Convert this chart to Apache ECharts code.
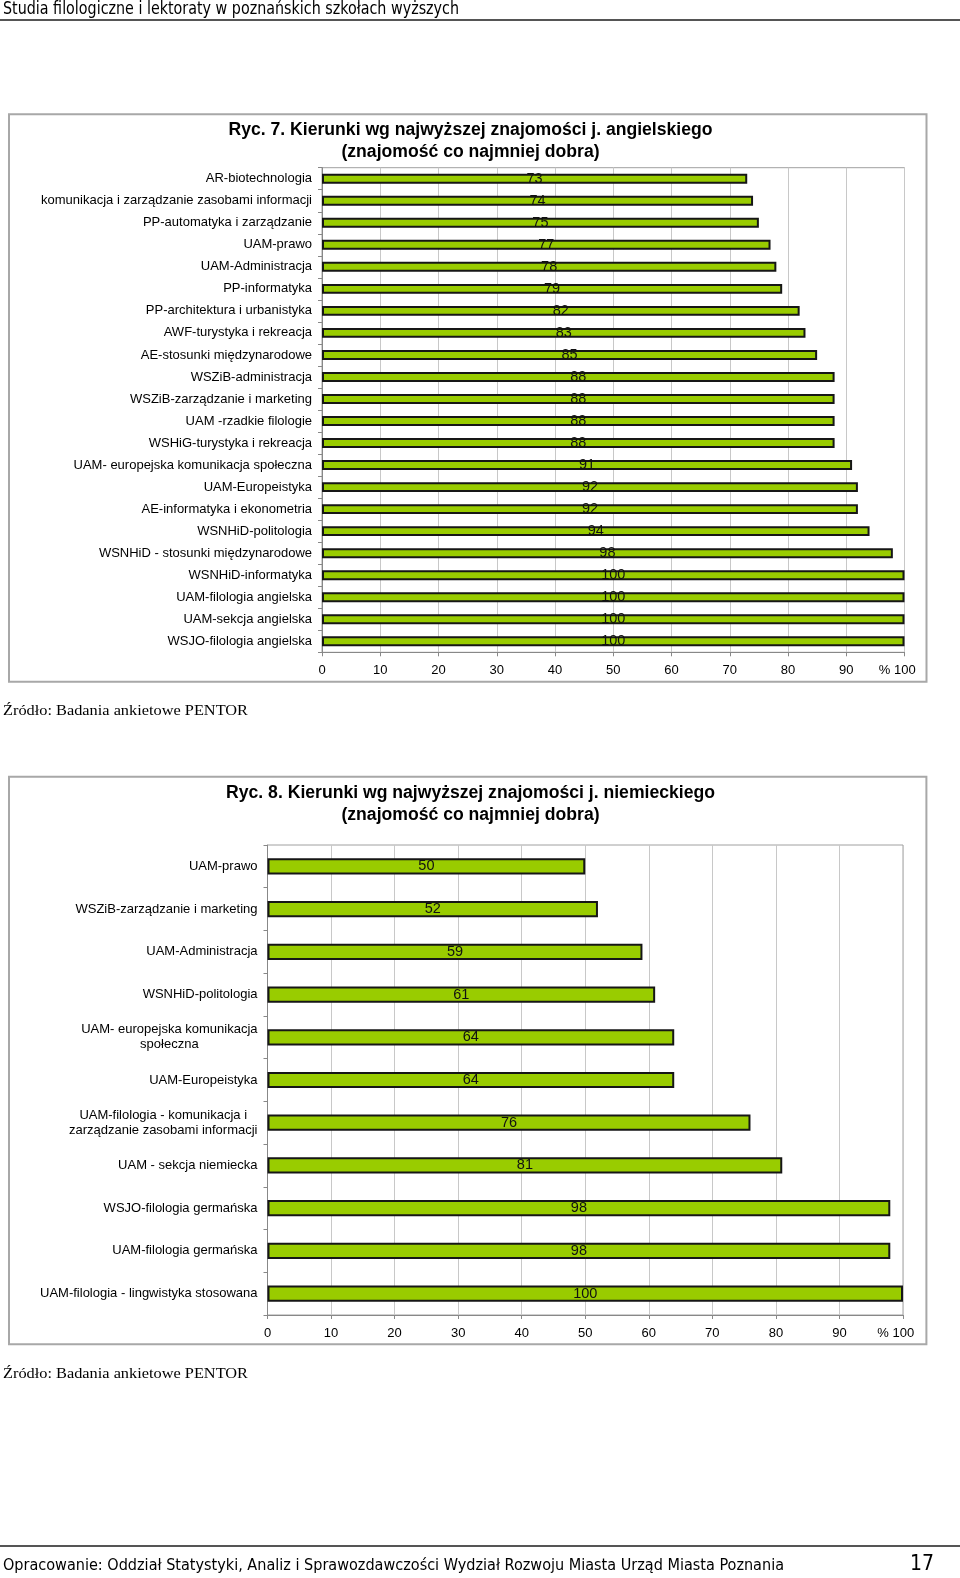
<!DOCTYPE html>
<html><head><meta charset="utf-8">
<script src="https://cdn.jsdelivr.net/npm/echarts@6/dist/echarts.min.js"></script>
<style>html,body{margin:0;padding:0;background:#fff}#c{width:960px;height:1578px}</style>
</head><body><div id="c"></div>
<script>
// ---- text ----
const headerText = 'Studia filologiczne i lektoraty w poznańskich szkołach wyższych';
const footerText = 'Opracowanie: Oddział Statystyki, Analiz i Sprawozdawczości Wydział Rozwoju Miasta Urząd Miasta Poznania';
const pageNumber = '17';
const sourceText = 'Źródło: Badania ankietowe PENTOR';
const title1 = 'Ryc. 7. Kierunki wg najwyższej znajomości j. angielskiego\n(znajomość co najmniej dobra)';
const title2 = 'Ryc. 8. Kierunki wg najwyższej znajomości j. niemieckiego\n(znajomość co najmniej dobra)';

// ---- data ----
const englishCategories = [
  'AR-biotechnologia',
  'komunikacja i zarządzanie zasobami informacji',
  'PP-automatyka i zarządzanie',
  'UAM-prawo',
  'UAM-Administracja',
  'PP-informatyka',
  'PP-architektura i urbanistyka',
  'AWF-turystyka i rekreacja',
  'AE-stosunki międzynarodowe',
  'WSZiB-administracja',
  'WSZiB-zarządzanie i marketing',
  'UAM -rzadkie filologie',
  'WSHiG-turystyka i rekreacja',
  'UAM- europejska komunikacja społeczna',
  'UAM-Europeistyka',
  'AE-informatyka i ekonometria',
  'WSNHiD-politologia',
  'WSNHiD - stosunki międzynarodowe',
  'WSNHiD-informatyka',
  'UAM-filologia angielska',
  'UAM-sekcja angielska',
  'WSJO-filologia angielska'
];
const englishValues = [73, 74, 75, 77, 78, 79, 82, 83, 85, 88, 88, 88, 88, 91, 92, 92, 94, 98, 100, 100, 100, 100];

const germanCategories = [
  'UAM-prawo',
  'WSZiB-zarządzanie i marketing',
  'UAM-Administracja',
  'WSNHiD-politologia',
  'UAM- europejska komunikacja\nspołeczna',
  'UAM-Europeistyka',
  'UAM-filologia - komunikacja i\nzarządzanie zasobami informacji',
  'UAM - sekcja niemiecka',
  'WSJO-filologia germańska',
  'UAM-filologia germańska',
  'UAM-filologia - lingwistyka stosowana'
];
const germanValues = [50, 52, 59, 61, 64, 64, 76, 81, 98, 98, 100];

const axisMin = 0, axisMax = 100, axisStep = 10;
const lastTickPrefix = '% ';

// ---- helpers ----
const SANS = '"Liberation Sans", Arial, sans-serif';
const mctx = document.createElement('canvas').getContext('2d');
function fitText(text, x, y, size, family, weight, targetW, color) {
  const font = (weight || 'normal') + ' ' + size + 'px ' + family;
  mctx.font = font;
  const mw = mctx.measureText(text).width || targetW;
  return {
    type: 'text', x: x, y: y, scaleX: targetW / mw, scaleY: 1, originX: 0, originY: 0, silent: true,
    style: { text: text, x: 0, y: 0, font: font, fill: color || '#000',
      align: 'left', verticalAlign: 'middle', textAlign: 'left', textVerticalAlign: 'middle' }
  };
}
function centerText(text, x, y, font, lineHeight) {
  return {
    type: 'text', x: x, y: y, silent: true,
    style: { text: text, x: 0, y: 0, font: font, fill: '#000', lineHeight: lineHeight,
      align: 'center', verticalAlign: 'middle', textAlign: 'center', textVerticalAlign: 'middle' }
  };
}
function box(x, y, w, h) {
  return { type: 'rect', silent: true, z: -1, shape: { x: x, y: y, width: w, height: h },
    style: { fill: null, stroke: '#a8a8a8', lineWidth: 2 } };
}
function hline(y) {
  return { type: 'line', silent: true, shape: { x1: 0, y1: y, x2: 960, y2: y },
    style: { stroke: '#555', lineWidth: 2 } };
}

const tickFormatter = function (v) {
  return v === axisMax ? lastTickPrefix + v + '    ' : String(v);
};

function xAxisFor(i) {
  return {
    type: 'value', gridIndex: i, min: axisMin, max: axisMax, interval: axisStep,
    axisLine: { show: true, lineStyle: { color: '#888', width: 1 } },
    axisTick: { show: true, length: 4, lineStyle: { color: '#888' } },
    splitLine: { show: true, lineStyle: { color: '#c8c8c8', width: 1 } },
    axisLabel: { margin: 12, color: '#000', fontSize: 13, fontFamily: SANS, formatter: tickFormatter }
  };
}
function yAxisFor(i, cats) {
  return {
    type: 'category', gridIndex: i, data: cats, inverse: true,
    axisLine: { show: true, lineStyle: { color: '#888', width: 1 } },
    axisTick: { show: true, length: 4, lineStyle: { color: '#888' } },
    splitLine: { show: false },
    axisLabel: {
      interval: 0, margin: 10, color: '#000', fontSize: 13, fontFamily: SANS, lineHeight: 15,
      formatter: function (v) {
        return v.indexOf('\n') >= 0 ? v.split('\n').map(function (s) { return '{c|' + s + '}'; }).join('\n') : v;
      },
      rich: { c: { align: 'center', fontSize: 13, fontFamily: SANS, color: '#000', lineHeight: 15 } }
    }
  };
}
function barSeries(i, values, gap) {
  return {
    type: 'bar', xAxisIndex: i, yAxisIndex: i, data: values, barCategoryGap: gap,
    silent: true, animation: false,
    itemStyle: { color: '#99cc00', borderColor: '#161616', borderWidth: 2 },
    label: { show: true, position: 'inside', color: '#111', fontSize: 14.5, fontFamily: SANS, textBorderWidth: 0 }
  };
}

const chart = echarts.init(document.getElementById('c'), null, { renderer: 'canvas' });
chart.setOption({
  animation: false,
  backgroundColor: '#fff',
  grid: [
    { left: 322, top: 167.7, width: 582.5, height: 484.6, show: true, borderColor: '#a0a0a0', borderWidth: 1, containLabel: false, outerBoundsMode: 'none' },
    { left: 267.5, top: 845, width: 635.5, height: 470, show: true, borderColor: '#a0a0a0', borderWidth: 1, containLabel: false, outerBoundsMode: 'none' }
  ],
  xAxis: [xAxisFor(0), xAxisFor(1)],
  yAxis: [yAxisFor(0, englishCategories), yAxisFor(1, germanCategories)],
  series: [barSeries(0, englishValues, '55%'), barSeries(1, germanValues, '62%')],
  graphic: { elements: [
    fitText(headerText, 3, 9, 18, '"DejaVu Sans Condensed", "DejaVu Sans", sans-serif', 'normal', 456, '#000'),
    hline(20),
    box(9, 114.3, 917.5, 567.4),
    centerText(title1, 470.5, 141.5, 'bold 17.6px ' + SANS, 22),
    fitText(sourceText, 3, 711, 15.5, '"Liberation Serif", "Times New Roman", serif', 'normal', 245, '#000'),
    box(9, 776.7, 917.4, 567.6),
    centerText(title2, 470.5, 804.5, 'bold 17.6px ' + SANS, 22),
    fitText(sourceText, 3, 1374, 15.5, '"Liberation Serif", "Times New Roman", serif', 'normal', 245, '#000'),
    hline(1546),
    fitText(footerText, 3, 1566, 16, '"DejaVu Sans Condensed", "DejaVu Sans", sans-serif', 'normal', 781, '#000'),
    fitText(pageNumber, 910, 1565, 21, '"DejaVu Sans Condensed", "DejaVu Sans", sans-serif', 'normal', 24, '#000')
  ] }
});
</script>
</body></html>
